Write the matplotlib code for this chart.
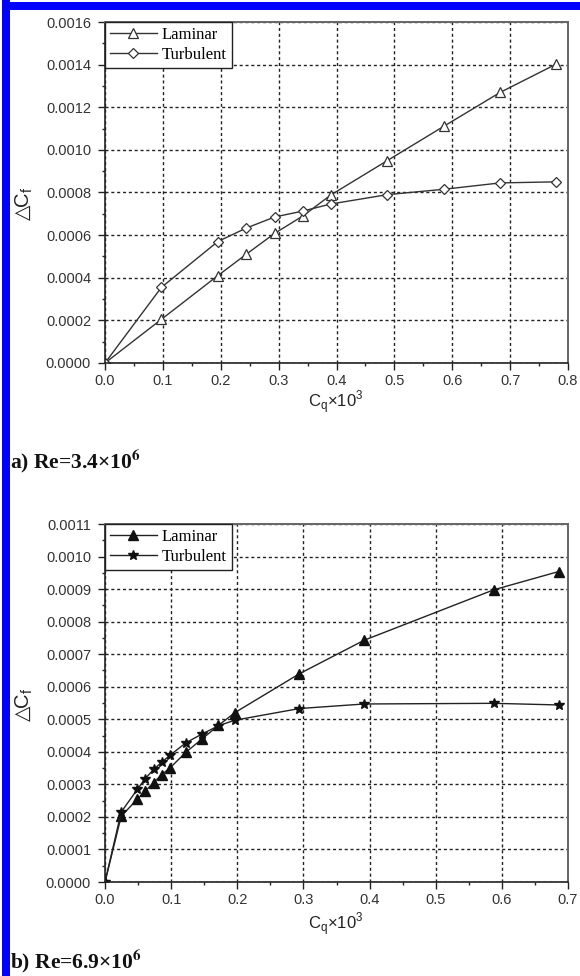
import matplotlib
matplotlib.use("Agg")
import matplotlib.pyplot as plt
from matplotlib.patches import Rectangle
from matplotlib.ticker import MultipleLocator, FormatStrFormatter

# ---- data: panel a (Re = 3.4e6) ----
cq_a = [0.0, 0.0975, 0.195, 0.244, 0.293, 0.342, 0.39, 0.488, 0.585, 0.683, 0.78]
lam_a = [0.0, 0.000205, 0.00041, 0.00051, 0.000608, 0.00069, 0.000788,
         0.00095, 0.00111, 0.00127, 0.001403]
tur_a = [0.0, 0.000355, 0.00057, 0.000633, 0.000685, 0.000713, 0.000746,
         0.00079, 0.000815, 0.000845, 0.00085]

# ---- data: panel b (Re = 6.9e6) ----
cq_b = [0.0, 0.0245, 0.049, 0.061, 0.0735, 0.0857, 0.098, 0.1225, 0.147,
        0.1715, 0.196, 0.294, 0.392, 0.588, 0.686]
lam_b = [0.0, 0.000202, 0.000255, 0.00028, 0.000305, 0.00033, 0.00035,
         0.000399, 0.00044, 0.000481, 0.00052, 0.00064, 0.000743,
         0.000898, 0.000954]
tur_b = [0.0, 0.000215, 0.000285, 0.000318, 0.000346, 0.000368, 0.000389,
         0.000428, 0.000455, 0.00048, 0.000497, 0.000533, 0.000547,
         0.000549, 0.000544]

series_names = ["Laminar", "Turbulent"]
captions = ["a) Re=3.4\u00d710$^\\mathbf{6}$", "b) Re=6.9\u00d710$^\\mathbf{6}$"]

W, H = 580, 976
fig = plt.figure(figsize=(W / 100, H / 100), dpi=100)
fig.patch.set_facecolor("white")

# blue frame strips along the left and top edges
fig.patches.append(Rectangle((2 / W, 0), 8 / W, 1, transform=fig.transFigure,
                             facecolor="#0000ff", edgecolor="none", zorder=0))
fig.patches.append(Rectangle((2 / W, 1 - 10 / H), 1 - 2 / W, 8 / H,
                             transform=fig.transFigure, facecolor="#0000ff",
                             edgecolor="none", zorder=0))

SANS = ["Liberation Sans", "DejaVu Sans"]
SERIF = ["Liberation Serif", "DejaVu Serif"]
INK = "#222222"


def px_axes(left, top, right, bottom):
    return fig.add_axes([left / W, 1 - bottom / H, (right - left) / W, (bottom - top) / H])


def style_axes(ax, xmax, xmaj, ymax, ymaj):
    ax.set_xlim(0, xmax)
    ax.set_ylim(0, ymax)
    ax.xaxis.set_major_locator(MultipleLocator(xmaj))
    ax.xaxis.set_minor_locator(MultipleLocator(xmaj / 2))
    ax.yaxis.set_major_locator(MultipleLocator(ymaj))
    ax.yaxis.set_minor_locator(MultipleLocator(ymaj / 2))
    ax.xaxis.set_major_formatter(FormatStrFormatter("%.1f"))
    ax.yaxis.set_major_formatter(FormatStrFormatter("%.4f"))
    ax.tick_params(which="both", direction="out", top=False, right=False,
                   color=INK, width=1.0)
    ax.tick_params(which="major", length=5, labelsize=10.5, labelcolor="#333333")
    ax.tick_params(axis="y", which="major", pad=5)
    ax.tick_params(axis="x", which="major", pad=3)
    ax.tick_params(which="minor", length=2.5)
    for lab in ax.get_xticklabels() + ax.get_yticklabels():
        lab.set_family(SANS)
    ax.grid(True, which="major", color=INK, linestyle=(0, (2.2, 2.0)), linewidth=1.0)
    ax.set_axisbelow(True)
    for side in ("left", "bottom"):
        ax.spines[side].set_color(INK)
        ax.spines[side].set_linewidth(1.2)
    for side in ("top", "right"):
        ax.spines[side].set_color("#666666")
        ax.spines[side].set_linewidth(1.4)


def add_legend(ax):
    leg = ax.legend(loc="upper left", borderaxespad=0, fancybox=False,
                    framealpha=1, edgecolor=INK, handlelength=2.8,
                    handletextpad=0.3, borderpad=0.3, labelspacing=0.25,
                    prop={"family": SERIF, "size": 12})
    leg.get_frame().set_linewidth(1.0)


# ---- panel a ----
ax1 = px_axes(105, 22, 568, 363)
style_axes(ax1, 0.8, 0.1, 0.0016, 0.0002)
ax1.plot(cq_a, lam_a, color="#333333", lw=1.0, marker="^", ms=6.5,
         mfc="white", mec="#333333", mew=0.9, label=series_names[0])
ax1.plot(cq_a, tur_a, color="#333333", lw=1.0, marker="D", ms=5,
         mfc="white", mec="#333333", mew=0.9, label=series_names[1])
add_legend(ax1)

# ---- panel b ----
ax2 = px_axes(105, 524, 568, 882)
style_axes(ax2, 0.7, 0.1, 0.0011, 0.0001)
ax2.yaxis.set_minor_locator(MultipleLocator(0.00005))
ax2.plot(cq_b, lam_b, color="#222222", lw=1.0, marker="^", ms=6.5,
         mfc="#111111", mec="#111111", label=series_names[0])
ax2.plot(cq_b, tur_b, color="#222222", lw=1.0, marker="*", ms=7,
         mfc="#111111", mec="#111111", label=series_names[1])
add_legend(ax2)

# axis titles and panel captions
for ylab_y, xlab_y, cap_y, cap in [(205, 402, 461, captions[0]),
                                   (706, 924, 961, captions[1])]:
    fig.text(24 / W, 1 - ylab_y / H, "$\\triangle\\!\\!$C$_\\mathregular{f}$", rotation=90,
             ha="center", va="center", fontsize=14.5, family=SANS, color=INK)
    fig.text(336 / W, 1 - xlab_y / H, "C$_\\mathregular{q}$\u00d710$^\\mathregular{3}$",
             ha="center", va="center", fontsize=12, family=SANS, color=INK)
    fig.text(10 / W, 1 - cap_y / H, cap, ha="left", va="center", fontsize=15.5,
             family=SERIF, fontweight="bold", math_fontfamily="stix", color="#111111")

fig.savefig("out.png", dpi=100, facecolor="white")
